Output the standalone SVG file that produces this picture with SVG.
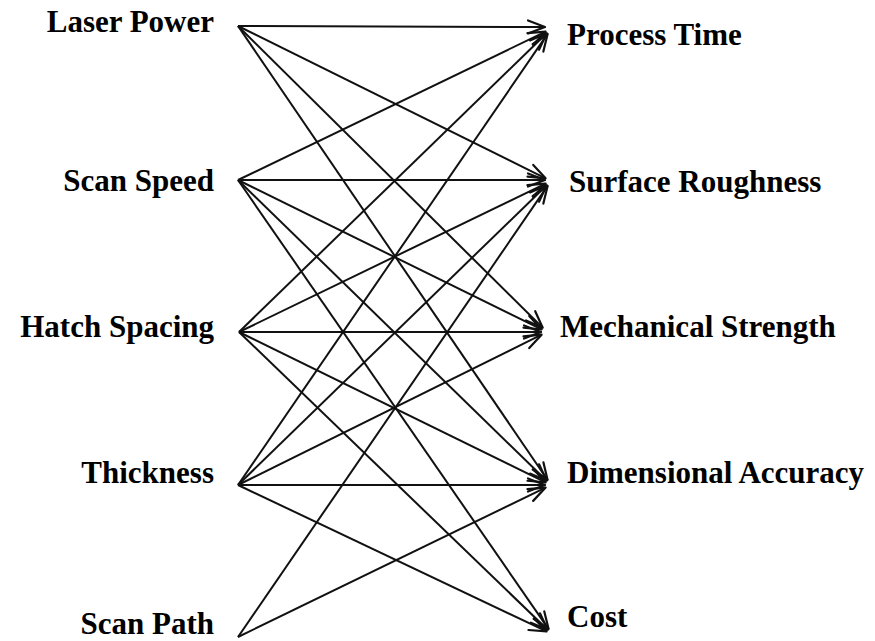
<svg xmlns="http://www.w3.org/2000/svg" width="875" height="641" viewBox="0 0 875 641">
<style>
.lbl{font-family:"Liberation Serif","Times New Roman",serif;font-weight:bold;font-size:31px;fill:#000}
.l{text-anchor:end}
.e{stroke:#111;stroke-width:2;fill:none;marker-end:url(#ah)}
</style>
<defs>
<marker id="ah" markerUnits="userSpaceOnUse" markerWidth="22" markerHeight="18" viewBox="-19 -9 22 18" refX="0" refY="0" orient="auto">
<path d="M-17,-6.5 L0,0 L-17,6.5" stroke="#111" stroke-width="2.2" fill="none" stroke-linecap="round" stroke-linejoin="round"/>
</marker>
</defs>
<rect width="875" height="641" fill="#fff"/>
<g id="connectors">
<line class="e" x1="238" y1="26" x2="545" y2="27"/>
<line class="e" x1="238" y1="26" x2="545.6" y2="178.3"/>
<line class="e" x1="238" y1="26" x2="542.7" y2="327.8"/>
<line class="e" x1="238" y1="26" x2="547.6" y2="480"/>
<line class="e" x1="238" y1="180" x2="545.6" y2="31.6"/>
<line class="e" x1="238" y1="180" x2="545" y2="180"/>
<line class="e" x1="238" y1="180" x2="541.6" y2="329.4"/>
<line class="e" x1="238" y1="180" x2="546.7" y2="480.8"/>
<line class="e" x1="238" y1="180" x2="548.6" y2="629.1"/>
<line class="e" x1="239" y1="332" x2="546.7" y2="33.2"/>
<line class="e" x1="239" y1="332" x2="545.6" y2="183.6"/>
<line class="e" x1="239" y1="332" x2="541" y2="332"/>
<line class="e" x1="239" y1="332" x2="545.6" y2="482.4"/>
<line class="e" x1="239" y1="332" x2="547.7" y2="629.8"/>
<line class="e" x1="238" y1="485" x2="547.6" y2="33.9"/>
<line class="e" x1="238" y1="485" x2="546.7" y2="185.2"/>
<line class="e" x1="238" y1="485" x2="541.6" y2="334.7"/>
<line class="e" x1="238" y1="485" x2="545" y2="485"/>
<line class="e" x1="238" y1="485" x2="546.6" y2="631.4"/>
<line class="e" x1="238" y1="637" x2="547.6" y2="185.9"/>
<line class="e" x1="238" y1="637" x2="545.6" y2="487.6"/>
</g>
<g id="laser-power"><text class="lbl l" x="214" y="32">Laser Power</text></g>
<g id="scan-speed"><text class="lbl l" x="214" y="191">Scan Speed</text></g>
<g id="hatch-spacing"><text class="lbl l" x="214" y="337">Hatch Spacing</text></g>
<g id="thickness"><text class="lbl l" x="214" y="483">Thickness</text></g>
<g id="scan-path"><text class="lbl l" x="214" y="634">Scan Path</text></g>
<g id="process-time"><text class="lbl" x="567" y="45">Process Time</text></g>
<g id="surface-roughness"><text class="lbl" x="569" y="192">Surface Roughness</text></g>
<g id="mechanical-strength"><text class="lbl" x="560" y="337">Mechanical Strength</text></g>
<g id="dimensional-accuracy"><text class="lbl" x="567" y="483">Dimensional Accuracy</text></g>
<g id="cost"><text class="lbl" x="567" y="627">Cost</text></g>
</svg>
